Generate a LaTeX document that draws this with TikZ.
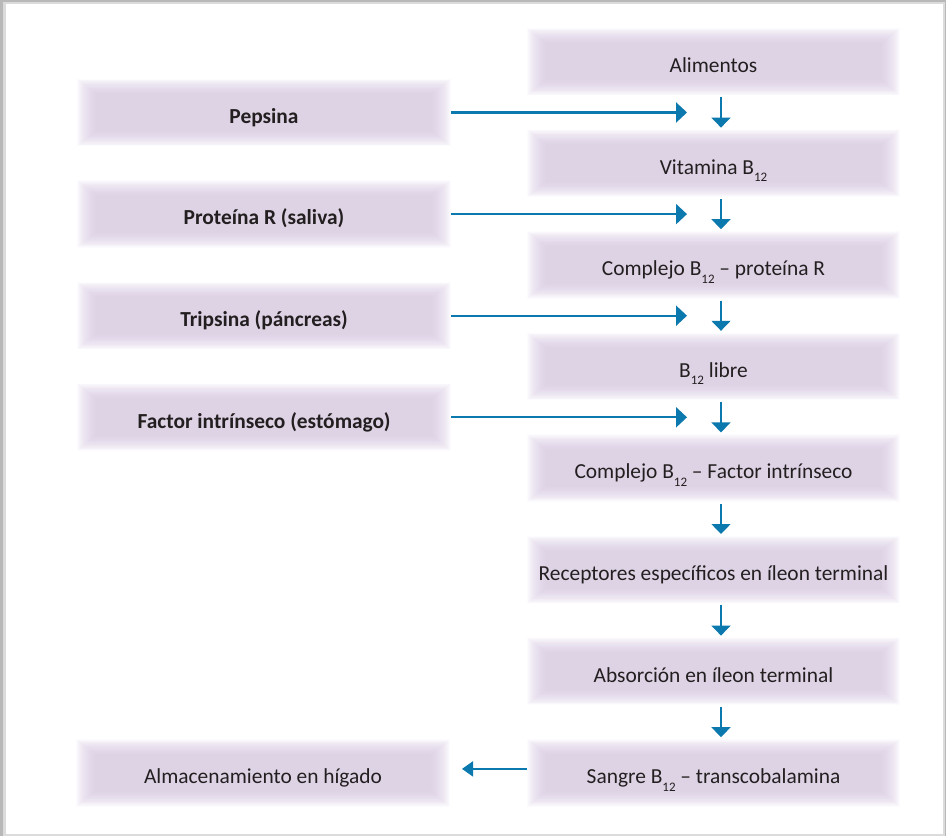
\documentclass[tikz,border=0pt]{standalone}
\usepackage{fontspec}
\setmainfont{Carlito}
\usetikzlibrary{arrows.meta,backgrounds,calc}
\definecolor{boxc}{HTML}{DBCCE5}
\definecolor{arrc}{HTML}{0B78AE}
\definecolor{txtc}{HTML}{231F20}
\newcommand\Bsub{B\raisebox{-7.5pt}[0pt][0pt]{\fontsize{13}{13}\selectfont 12}}
\begin{document}
\begin{tikzpicture}[x=1pt,y=-1pt,
  lab/.style={text=txtc, font=\fontsize{21.4}{24}\selectfont, minimum width=372pt, minimum height=67pt, inner sep=0pt, text height=21.6pt, text depth=0pt},
  llab/.style={lab, minimum width=374pt},
  bold/.style={font=\fontsize{21.4}{24}\selectfont\bfseries},
  harr/.style={arrc, line width=2.3pt, -{Triangle[length=11pt,width=20pt]}},
  larr/.style={arrc, line width=1.8pt, -{Triangle[length=11pt,width=15pt]}},
  varr/.style={arrc, line width=1.5pt, -{Triangle[length=10pt,width=19pt]}}]
\useasboundingbox (0,0) rectangle (946,836);
% right column
\node[lab] (r0) at (713.5,61.7) {Alimentos};
\node[lab] (r1) at (713.5,163.3) {Vitamina \Bsub};
\node[lab] (r2) at (713.5,264.9) {Complejo \Bsub{} – proteína R};
\node[lab] (r3) at (713.5,366.5) {\Bsub{} libre};
\node[lab] (r4) at (713.5,468.1) {Complejo \Bsub{} – Factor intrínseco};
\node[lab] (r5) at (713.5,569.7) {Receptores específicos en íleon terminal};
\node[lab] (r6) at (713.5,671.3) {Absorción en íleon terminal};
\node[lab] (r7) at (713.5,772.9) {Sangre \Bsub{} – transcobalamina};
% left column
\node[llab,bold] (l0) at (264,112.5) {Pepsina};
\node[llab,bold] (l1) at (264,214.1) {Proteína R (saliva)};
\node[llab,bold] (l2) at (264,315.7) {Tripsina (páncreas)};
\node[llab,bold] (l3) at (264,417.3) {Factor intrínseco (estómago)};
\node[llab] (l4) at (263,772.9) {Almacenamiento en hígado};
% arrow free ends
\coordinate (t0) at (687,112.5);
\coordinate (t1) at (687,214.1);
\coordinate (t2) at (687,315.7);
\coordinate (t3) at (687,417.3);
\coordinate (t4) at (462,768.9);
\draw[harr] (l0.east) -- (t0);
\draw[harr] (l1.east) -- (t1);
\draw[harr] (l2.east) -- (t2);
\draw[harr] (l3.east) -- (t3);
\draw[larr] ([yshift=4pt]r7.west) -- (t4);
\draw[varr] ($(r0.south)+(7.5,2)$) -- ($(r1.north)+(7.5,-2)$);
\draw[varr] ($(r1.south)+(7.5,2)$) -- ($(r2.north)+(7.5,-2)$);
\draw[varr] ($(r2.south)+(7.5,2)$) -- ($(r3.north)+(7.5,-2)$);
\draw[varr] ($(r3.south)+(7.5,2)$) -- ($(r4.north)+(7.5,-2)$);
\draw[varr] ($(r4.south)+(7.5,2)$) -- ($(r5.north)+(7.5,-2)$);
\draw[varr] ($(r5.south)+(7.5,2)$) -- ($(r6.north)+(7.5,-2)$);
\draw[varr] ($(r6.south)+(7.5,2)$) -- ($(r7.north)+(7.5,-2)$);
\begin{scope}[on background layer]
  \fill[black!28] (0,0) rectangle (946,836);
  \fill[black!14] (2.5,1.5) rectangle (945,835.5);
  \fill[white] (6,4) rectangle (943,834);
  \foreach \n in {r0,r1,r2,r3,r4,r5,r6,r7,l0,l1,l2,l3,l4}{
    \foreach \k in {0,...,19}{
      \fill[boxc, fill opacity=0.07] ($(\n.south west)+(1.0*\k,-0.8*\k)$) rectangle ($(\n.north east)+(-1.0*\k,0.8*\k)$);
    }
  }
\end{scope}
\end{tikzpicture}
\end{document}
